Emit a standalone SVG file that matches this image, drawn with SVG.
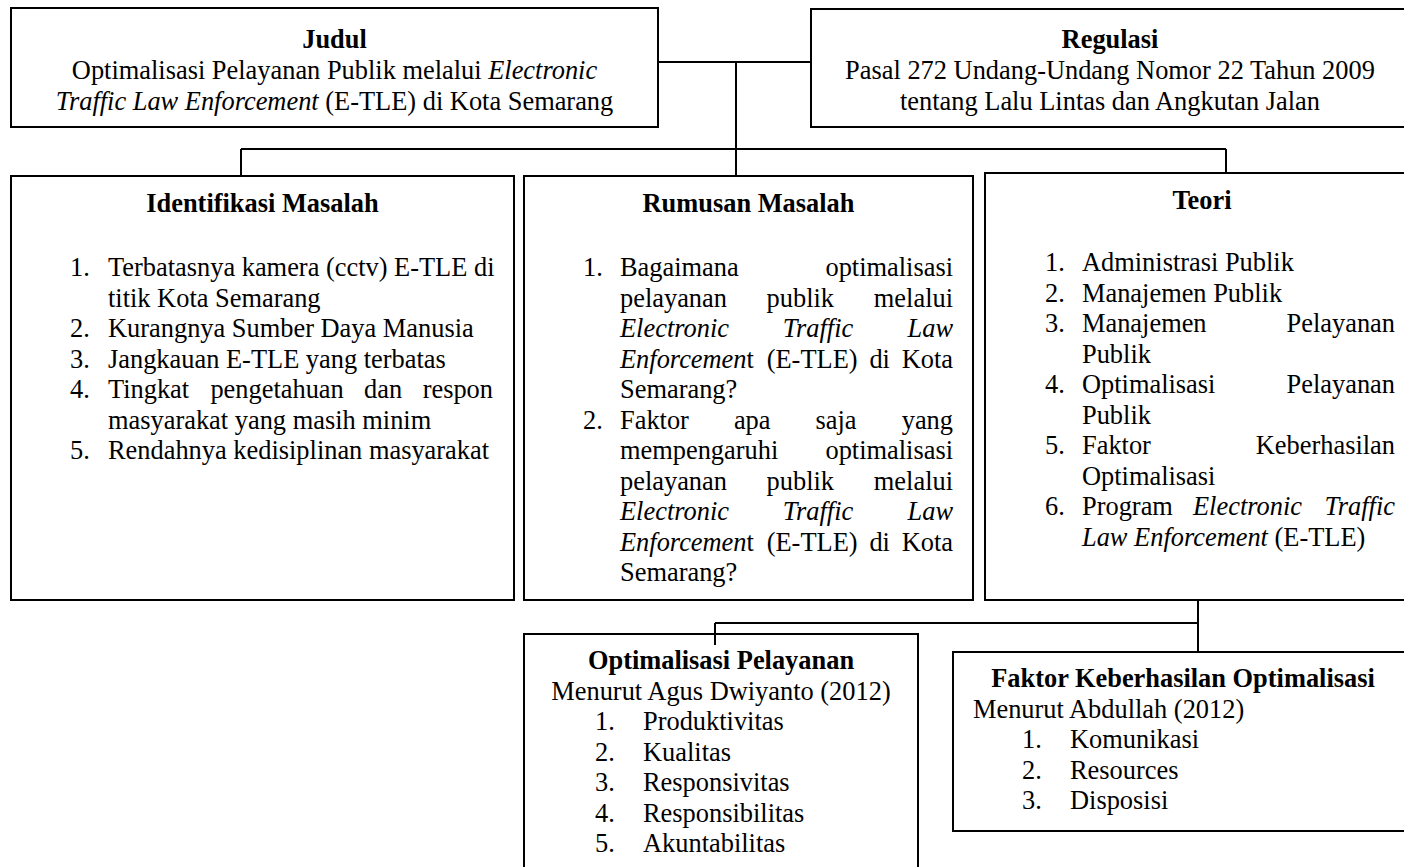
<svg xmlns="http://www.w3.org/2000/svg" width="1404" height="867" viewBox="0 0 1404 867">
<style>
.box{fill:#fff;stroke:#000;stroke-width:2}
.conn{fill:none;stroke:#000;stroke-width:2}
text{font-family:"Liberation Serif","Times New Roman",serif;font-size:26.4px;fill:#000}
.b{font-weight:bold}
.i{font-style:italic}
.m{text-anchor:middle}
.e{text-anchor:end}
</style>
<rect width="1404" height="867" fill="#fff"/>
<g id="judul">
<rect class="box" x="11" y="8" width="647" height="119"/>
<text class="b m" x="334.5" y="48">Judul</text>
<text class="m" x="334.5" y="79">Optimalisasi Pelayanan Publik melalui <tspan class="i">Electronic</tspan></text>
<text class="m" x="334.5" y="110"><tspan class="i">Traffic Law Enforcement</tspan> (E-TLE) di Kota Semarang</text>
</g>
<g id="regulasi">
<rect class="box" x="811" y="9" width="600" height="118"/>
<text class="b m" x="1110" y="48">Regulasi</text>
<text class="m" x="1110" y="79">Pasal 272 Undang-Undang Nomor 22 Tahun 2009</text>
<text class="m" x="1110" y="110">tentang Lalu Lintas dan Angkutan Jalan</text>
</g>
<g id="identifikasi">
<rect class="box" x="11" y="176" width="503" height="424"/>
<text class="b m" x="262.5" y="212">Identifikasi Masalah</text>
<text x="70" y="276">1.</text><text x="108" y="276">Terbatasnya kamera (cctv) E-TLE di</text>
<text x="108" y="306.5">titik Kota Semarang</text>
<text x="70" y="337">2.</text><text x="108" y="337">Kurangnya Sumber Daya Manusia</text>
<text x="70" y="367.5">3.</text><text x="108" y="367.5">Jangkauan E-TLE yang terbatas</text>
<text x="70" y="398">4.</text><text x="108" y="398">Tingkat</text><text x="210.4" y="398">pengetahuan</text><text x="364.1" y="398">dan</text><text class="e" x="493" y="398">respon</text>
<text x="108" y="428.5">masyarakat yang masih minim</text>
<text x="70" y="459">5.</text><text x="108" y="459">Rendahnya kedisiplinan masyarakat</text>
</g>
<g id="rumusan">
<rect class="box" x="524" y="176" width="449" height="424"/>
<text class="b m" x="748.5" y="212">Rumusan Masalah</text>
<text x="583" y="276">1.</text><text x="620" y="276">Bagaimana</text><text class="e" x="953" y="276">optimalisasi</text>
<text x="620" y="306.5">pelayanan</text><text x="766.6" y="306.5">publik</text><text class="e" x="953" y="306.5">melalui</text>
<text class="i" x="620" y="337">Electronic</text><text class="i" x="782.8" y="337">Traffic</text><text class="i e" x="953" y="337">Law</text>
<text x="620" y="367.5"><tspan class="i">Enforcemen</tspan>t</text><text x="766.7" y="367.5">(E-TLE)</text><text x="869.4" y="367.5">di</text><text class="e" x="953" y="367.5">Kota</text>
<text x="620" y="398">Semarang?</text>
<text x="583" y="428.5">2.</text><text x="620" y="428.5">Faktor</text><text x="733.9" y="428.5">apa</text><text x="815.5" y="428.5">saja</text><text class="e" x="953" y="428.5">yang</text>
<text x="620" y="459">mempengaruhi</text><text class="e" x="953" y="459">optimalisasi</text>
<text x="620" y="489.5">pelayanan</text><text x="766.6" y="489.5">publik</text><text class="e" x="953" y="489.5">melalui</text>
<text class="i" x="620" y="520">Electronic</text><text class="i" x="782.8" y="520">Traffic</text><text class="i e" x="953" y="520">Law</text>
<text x="620" y="550.5"><tspan class="i">Enforcemen</tspan>t</text><text x="766.7" y="550.5">(E-TLE)</text><text x="869.4" y="550.5">di</text><text class="e" x="953" y="550.5">Kota</text>
<text x="620" y="581">Semarang?</text>
</g>
<g id="teori">
<rect class="box" x="985" y="173" width="434" height="427"/>
<text class="b m" x="1202" y="209">Teori</text>
<text x="1045" y="271">1.</text><text x="1082" y="271">Administrasi Publik</text>
<text x="1045" y="301.5">2.</text><text x="1082" y="301.5">Manajemen Publik</text>
<text x="1045" y="332">3.</text><text x="1082" y="332">Manajemen</text><text class="e" x="1395" y="332">Pelayanan</text>
<text x="1082" y="362.5">Publik</text>
<text x="1045" y="393">4.</text><text x="1082" y="393">Optimalisasi</text><text class="e" x="1395" y="393">Pelayanan</text>
<text x="1082" y="423.5">Publik</text>
<text x="1045" y="454">5.</text><text x="1082" y="454">Faktor</text><text class="e" x="1395" y="454">Keberhasilan</text>
<text x="1082" y="484.5">Optimalisasi</text>
<text x="1045" y="515">6.</text><text x="1082" y="515">Program</text><text class="i" x="1193" y="515">Electronic</text><text class="i e" x="1395" y="515">Traffic</text>
<text x="1082" y="545.5"><tspan class="i">Law Enforcement</tspan> (E-TLE)</text>
</g>
<g id="optimalisasi-pelayanan">
<rect class="box" x="524" y="634" width="394" height="245"/>
<text class="b m" x="721" y="669">Optimalisasi Pelayanan</text>
<text class="m" x="721" y="699.5">Menurut Agus Dwiyanto (2012)</text>
<text x="595" y="730">1.</text><text x="643" y="730">Produktivitas</text>
<text x="595" y="760.5">2.</text><text x="643" y="760.5">Kualitas</text>
<text x="595" y="791">3.</text><text x="643" y="791">Responsivitas</text>
<text x="595" y="821.5">4.</text><text x="643" y="821.5">Responsibilitas</text>
<text x="595" y="852">5.</text><text x="643" y="852">Akuntabilitas</text>
</g>
<g id="faktor-keberhasilan">
<rect class="box" x="953" y="652" width="462" height="179"/>
<text class="b m" x="1183" y="687">Faktor Keberhasilan Optimalisasi</text>
<text x="973" y="717.5">Menurut Abdullah (2012)</text>
<text x="1022" y="748">1.</text><text x="1070" y="748">Komunikasi</text>
<text x="1022" y="778.5">2.</text><text x="1070" y="778.5">Resources</text>
<text x="1022" y="809">3.</text><text x="1070" y="809">Disposisi</text>
</g>
<g id="connectors" class="conn">
<path d="M658 62H811"/>
<path d="M736 62V176"/>
<path d="M241 149H1226"/>
<path d="M241 149V176"/>
<path d="M1226 149V173"/>
<path d="M1198 600V652"/>
<path d="M715 623H1198"/>
<path d="M715 623V645"/>
</g>
</svg>
